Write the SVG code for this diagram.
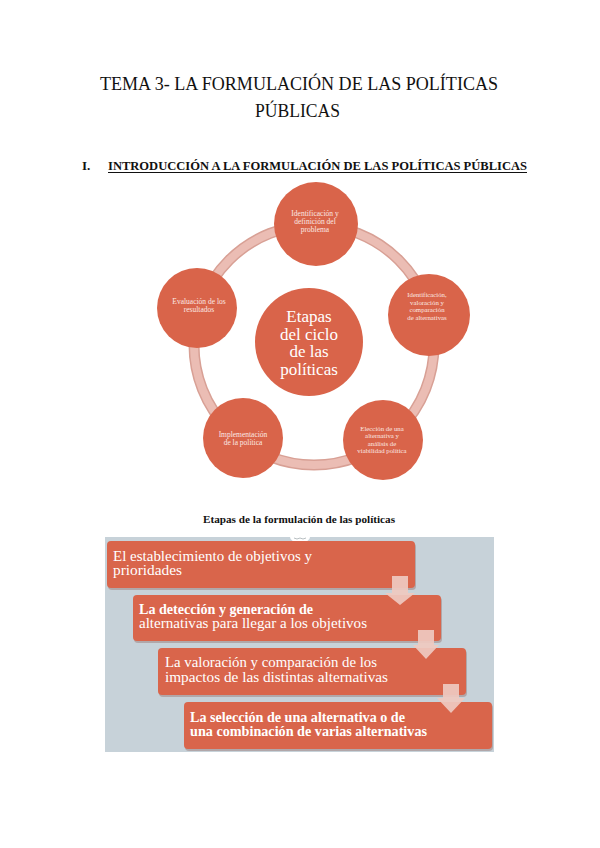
<svg xmlns="http://www.w3.org/2000/svg" width="600" height="848" viewBox="0 0 600 848">
<defs>
<style>
.title{font-family:"Liberation Serif","Times New Roman",serif;font-size:18px;fill:#111;}
.head{font-family:"Liberation Serif","Times New Roman",serif;font-size:13px;font-weight:bold;fill:#111;}
.cap{font-family:"Liberation Serif","Times New Roman",serif;font-size:11px;font-weight:bold;fill:#111;}
.node{fill:#d9644a;}
.nt{font-family:"Liberation Serif","Times New Roman",serif;font-size:7.5px;fill:#fbe9e4;text-anchor:middle;}
.ns{font-size:6.8px;}
.ct{font-family:"Liberation Serif","Times New Roman",serif;font-size:17px;fill:#ffffff;text-anchor:middle;}
.box{fill:#d9654b;}
.shadow{fill:#8a5a50;opacity:0.35;}
.bt{font-family:"Liberation Serif","Times New Roman",serif;font-size:14px;fill:#ffffff;}
.bb{font-weight:bold;}
.arrow{fill:#efc9c0;opacity:0.92;}
</style>
</defs>
<rect width="600" height="848" fill="#ffffff"/>

<g id="title">
<text class="title" x="100" y="90" textLength="398" lengthAdjust="spacingAndGlyphs">TEMA 3- LA FORMULACIÓN DE LAS POLÍTICAS</text>
<text class="title" x="255" y="117" textLength="85" lengthAdjust="spacingAndGlyphs">PÚBLICAS</text>
</g>
<g id="heading">
<text class="head" x="82" y="170">I.</text>
<text class="head" x="108" y="170" textLength="419" lengthAdjust="spacingAndGlyphs">INTRODUCCIÓN A LA FORMULACIÓN DE LAS POLÍTICAS PÚBLICAS</text>
<line x1="108" y1="172.5" x2="527" y2="172.5" stroke="#111" stroke-width="1"/>
</g>

<g id="connectors">
<circle cx="314" cy="345" r="120" fill="none" stroke="#d8a095" stroke-width="11"/>
<circle cx="314" cy="345" r="120" fill="none" stroke="#ebbdb4" stroke-width="8"/>
</g>

<g id="center">
<circle class="node" cx="309" cy="342" r="54"/>
<text class="ct" x="309" y="322">Etapas</text>
<text class="ct" x="309" y="339.5">del ciclo</text>
<text class="ct" x="309" y="357">de las</text>
<text class="ct" x="309" y="374.5">políticas</text>
</g>
<g id="n1">
<circle class="node" cx="316" cy="224" r="42"/>
<text class="nt" x="315" y="216">Identificación y</text>
<text class="nt" x="315" y="224">definición del</text>
<text class="nt" x="315" y="232">problema</text>
</g>
<g id="n2">
<circle class="node" cx="429" cy="315" r="41"/>
<text class="nt ns" x="427" y="297">Identificación,</text>
<text class="nt ns" x="427" y="304.5">valoración y</text>
<text class="nt ns" x="427" y="312">comparación</text>
<text class="nt ns" x="427" y="319.5">de alternativas</text>
</g>
<g id="n3">
<circle class="node" cx="383" cy="440" r="40"/>
<text class="nt ns" x="382" y="430.5">Elección de una</text>
<text class="nt ns" x="382" y="438">alternativa y</text>
<text class="nt ns" x="382" y="445.5">análisis de</text>
<text class="nt ns" x="382" y="453">viabilidad política</text>
</g>
<g id="n4">
<circle class="node" cx="243" cy="438" r="40"/>
<text class="nt" x="243" y="437">Implementación</text>
<text class="nt" x="243" y="445">de la política</text>
</g>
<g id="n5">
<circle class="node" cx="197" cy="308" r="40"/>
<text class="nt" x="199" y="304">Evaluación de los</text>
<text class="nt" x="199" y="312">resultados</text>
</g>

<g id="caption">
<text class="cap" x="203" y="523" textLength="192" lengthAdjust="spacingAndGlyphs">Etapas de la formulación de las políticas</text>
</g>

<g id="panel">
<rect x="105" y="537" width="389" height="215" fill="#c7d2d9"/>
<path d="M290 537 A10 6 0 0 0 310 537 Z" fill="#ffffff"/>
<path d="M294 538 q3 2 6 0 q3 2 6 0" fill="none" stroke="#9aa3a8" stroke-width="0.7"/>
</g>

<g id="b1">
<rect class="shadow" x="108" y="543" width="308" height="47" rx="4"/>
<rect class="box" x="107" y="541" width="308" height="47" rx="4"/>
<text class="bt" x="113" y="561" textLength="199" lengthAdjust="spacingAndGlyphs">El establecimiento de objetivos y</text>
<text class="bt" x="113" y="575" textLength="69" lengthAdjust="spacingAndGlyphs">prioridades</text>
</g>
<g id="b2">
<rect class="shadow" x="134" y="597" width="308" height="46" rx="4"/>
<rect class="box" x="133" y="595" width="308" height="46" rx="4"/>
<text class="bt bb" x="139" y="614" textLength="174" lengthAdjust="spacingAndGlyphs">La detección y generación de</text>
<text class="bt" x="139" y="628" textLength="228" lengthAdjust="spacingAndGlyphs">alternativas para llegar a los objetivos</text>
</g>
<g id="b3">
<rect class="shadow" x="159" y="650" width="308" height="47" rx="4"/>
<rect class="box" x="158" y="648" width="308" height="47" rx="4"/>
<text class="bt" x="165" y="667" textLength="212" lengthAdjust="spacingAndGlyphs">La valoración y comparación de los</text>
<text class="bt" x="165" y="682" textLength="223" lengthAdjust="spacingAndGlyphs">impactos de las distintas alternativas</text>
</g>
<g id="b4">
<rect class="shadow" x="185" y="704" width="308" height="47" rx="4"/>
<rect class="box" x="184" y="702" width="308" height="47" rx="4"/>
<text class="bt bb" x="190" y="722" textLength="215" lengthAdjust="spacingAndGlyphs">La selección de una alternativa o de</text>
<text class="bt bb" x="190" y="736" textLength="237" lengthAdjust="spacingAndGlyphs">una combinación de varias alternativas</text>
</g>

<g id="arrows">
<path class="arrow" d="M392 576 H408 V593 H415 L400 605 L385 593 H392 Z"/>
<path class="arrow" d="M418 630 H434 V645 H439 L426 659 L413 645 H418 Z"/>
<path class="arrow" d="M443 684 H459 V698 H465 L451 713 L437 698 H443 Z"/>
</g>
</svg>
